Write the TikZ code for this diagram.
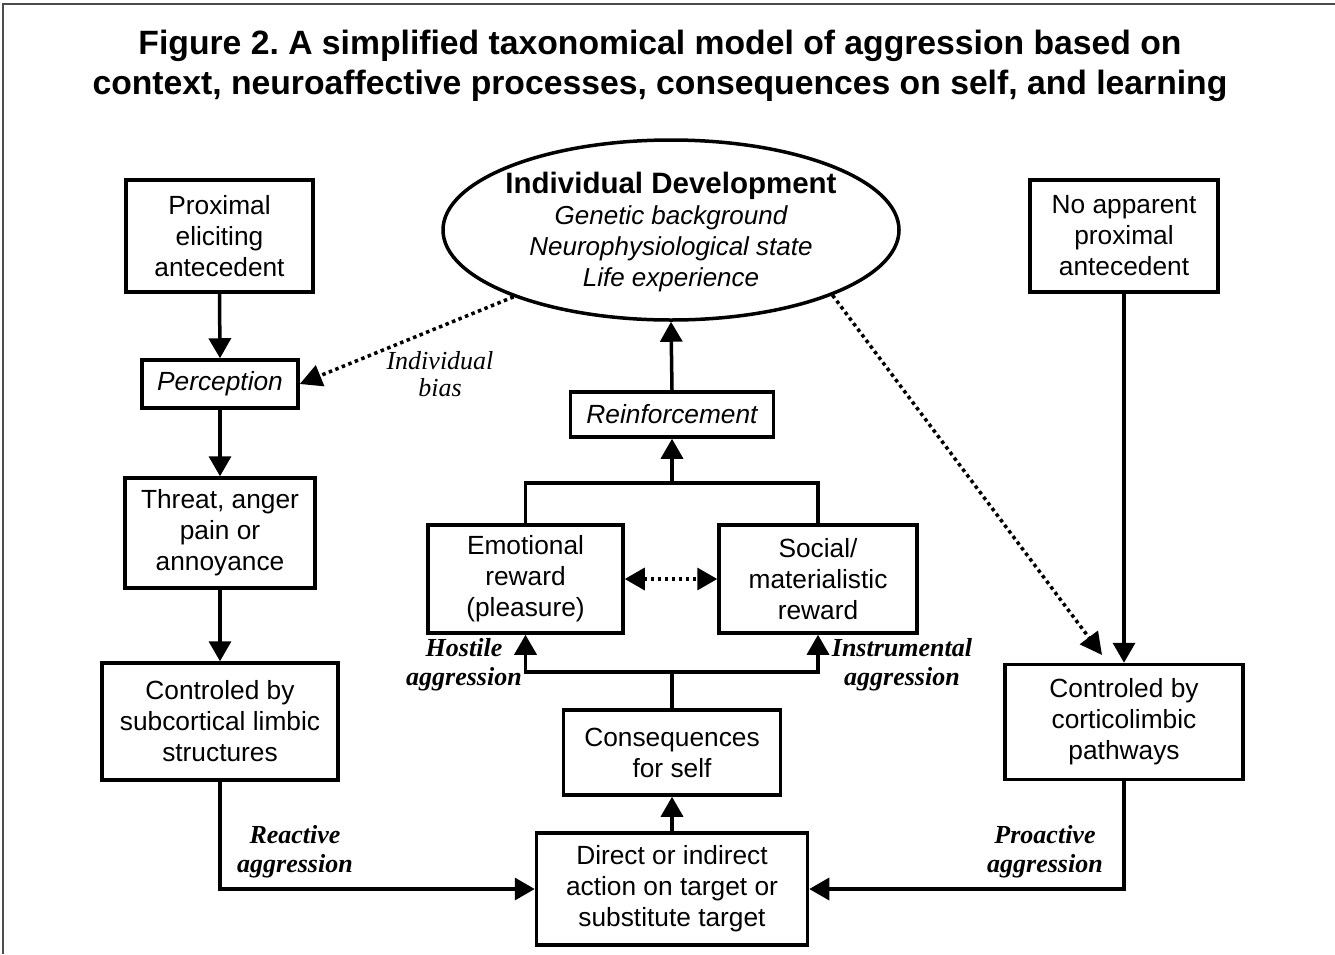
\documentclass[tikz,border=0pt]{standalone}
\usepackage{fontspec}
\setmainfont{Liberation Sans}
\newfontfamily\serifface{Liberation Serif}
\usetikzlibrary{arrows.meta,shapes.geometric}
\frenchspacing
\tikzset{
  box/.style={draw, line width=3.5pt, align=center, inner sep=0pt,
    font=\fontsize{26.3}{31}\selectfont},
  conn/.style={line width=3.5pt},
  arr/.style={line width=3.5pt, -{Triangle[length=20pt,width=22pt]}},
  dotarr/.style={line width=3.5pt, dash pattern=on 3.5pt off 3.5pt,
    -{Triangle[length=22pt,width=22pt]}},
  dotdbl/.style={line width=3.5pt, dash pattern=on 3.5pt off 3.5pt,
    {Triangle[length=20pt,width=22pt]}-{Triangle[length=20pt,width=22pt]}},
  lab/.style={align=center, inner sep=0pt,
    font=\serifface\bfseries\itshape\fontsize{26}{29}\selectfont},
  labi/.style={align=center, inner sep=0pt,
    font=\serifface\itshape\fontsize{26}{27}\selectfont},
}
\begin{document}
\begin{tikzpicture}[x=1pt,y=-1pt]
\useasboundingbox (0,0) rectangle (1335,954);
% frame
\draw[line width=2pt, gray!60!black] (3,954) -- (3,4) -- (1335,4);
% title
\node[align=center, inner sep=0pt, font=\bfseries\fontsize{33.7}{40}\selectfont] (title) at (660,66)
  {Figure 2. A simplified taxonomical model of aggression based on\\
   context, neuroaffective processes, consequences on self, and learning};
% left column
\node[box, minimum width=187pt, minimum height=112pt] (prox) at (219.5,236)
  {Proximal\\eliciting\\antecedent};
\node[box, minimum width=156pt, minimum height=48pt, font=\itshape\fontsize{26.3}{31}\selectfont] (perc) at (220,384) {Perception};
\node[box, minimum width=190pt, minimum height=110pt] (threat) at (220,533)
  {Threat, anger\\pain or\\annoyance};
\node[box, minimum width=236pt, minimum height=117pt] (subc) at (220,721.5)
  {Controled by\\subcortical limbic\\structures};
% right column
\node[box, minimum width=188pt, minimum height=112pt] (noap) at (1124,236)
  {No apparent\\proximal\\antecedent};
\node[box, minimum width=238pt, minimum height=115pt] (cort) at (1124,722)
  {Controled by\\corticolimbic\\pathways};
% centre
\node[draw, ellipse, line width=3.5pt, minimum width=456pt, minimum height=180pt, inner sep=0pt] (indiv) at (671,230) {};
\node[align=center, inner sep=0pt, font=\fontsize{26}{31}\selectfont] (indivtext) at (671,232)
  {{\bfseries\fontsize{29.5}{31}\selectfont Individual Development}\\
   \itshape Genetic background\\
   \itshape Neurophysiological state\\
   \itshape Life experience};
\node[box, minimum width=203pt, minimum height=45pt, font=\itshape\fontsize{26.3}{31}\selectfont] (reinf) at (672,414.5) {Reinforcement};
\node[box, minimum width=195pt, minimum height=108pt] (emo) at (525.5,579)
  {Emotional\\reward\\(pleasure)};
\node[box, minimum width=198pt, minimum height=108pt] (soc) at (818,579)
  {Social/\\materialistic\\reward};
\node[box, minimum width=217pt, minimum height=85pt] (cons) at (672,752.5)
  {Consequences\\for self};
\node[box, minimum width=271pt, minimum height=112pt] (direct) at (672,889)
  {Direct or indirect\\action on target or\\substitute target};
% junctions
\coordinate (upj) at (672,483);
\coordinate (lowj) at (672,672);
\coordinate (cortin) at (1102,655);
% connectors
\draw[arr] (prox.south) -- (perc.north);
\draw[arr] (perc.south) -- (threat.north);
\draw[arr] (threat.south) -- (subc.north);
\draw[arr] (subc.south) |- (direct.west);
\draw[arr] (noap.south) -- (cort.north);
\draw[arr] (cort.south) |- (direct.east);
\draw[arr] (direct.north) -- (cons.south);
\draw[conn] (cons.north) -- (lowj);
\draw[arr] (lowj) -| (emo.south);
\draw[arr] (lowj) -| (soc.south);
\draw[conn] (emo.north) |- (upj) -| (soc.north);
\draw[arr] (upj) -- (reinf.south);
\draw[arr] (reinf.north) -- (indiv.south);
\draw[dotarr] (indiv.203) -- (perc.east);
\draw[dotarr] (indiv.-22) -- (cortin);
\draw[dotdbl] (emo.east) -- (soc.west);
% labels
\node[labi] (bias) at (440,374) {Individual\\bias};
\node[lab] (host) at (464,665) {Hostile\\aggression};
\node[lab] (instr) at (902,665) {Instrumental\\aggression};
\node[lab] (react) at (295,852) {Reactive\\aggression};
\node[lab] (proact) at (1045,852) {Proactive\\aggression};
\end{tikzpicture}
\end{document}
